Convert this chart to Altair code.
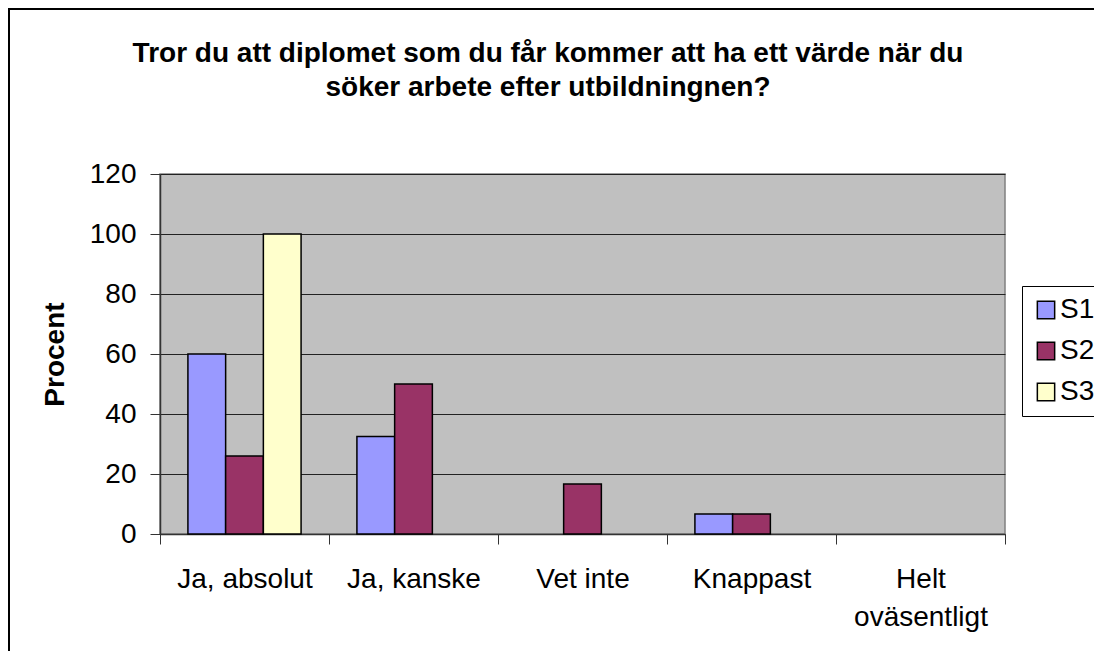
import altair as alt
import pandas as pd

categories = ["Ja, absolut", "Ja, kanske", "Vet inte", "Knappast", "Helt oväsentligt"]
series = ["S1", "S2", "S3"]
s1 = [60, 32.5, 0, 6.7, 0]
s2 = [26, 50, 16.7, 6.7, 0]
s3 = [100, 0, 0, 0, 0]
colors = ["#9999FF", "#993366", "#FFFFCC"]
y_ticks = [0, 20, 40, 60, 80, 100, 120]
title_lines = ["Tror du att diplomet som du får kommer att ha ett värde när du",
               "söker arbete efter utbildningnen?"]

rows = []
for name, vals in zip(series, [s1, s2, s3]):
    for c, v in zip(categories, vals):
        rows.append({"kategori": c, "serie": name, "value": v})
df = pd.DataFrame(rows)

FONT = "Liberation Sans"

bars = alt.Chart(df).transform_filter("datum.value > 0").mark_bar(
    stroke="black", strokeWidth=1.5
).encode(
    x=alt.X("kategori:N", sort=categories,
            scale=alt.Scale(domain=categories, paddingInner=0, paddingOuter=0),
            axis=alt.Axis(title=None, labelAngle=0, tickBand="extent",
                          labelFontSize=28, labelFont=FONT, labelColor="black",
                          labelPadding=21, labelLineHeight=38,
                          labelExpr="datum.label == 'Helt oväsentligt' ? ['Helt', 'oväsentligt'] : datum.label",
                          tickSize=10, tickColor="#333", domainColor="#333",
                          domainWidth=1.5, grid=False)),
    xOffset=alt.XOffset("serie:N", sort=series,
                        scale=alt.Scale(domain=series, paddingInner=0, paddingOuter=0.74)),
    y=alt.Y("value:Q", scale=alt.Scale(domain=[0, 120], nice=False),
            axis=alt.Axis(title="Procent", values=y_ticks, grid=True,
                          gridColor="#222", gridWidth=1,
                          labelFontSize=28, labelFont=FONT, labelColor="black",
                          labelPadding=14, tickSize=10, tickColor="#333",
                          domainColor="#333", domainWidth=1.5,
                          titleFontSize=28, titleFont=FONT, titleFontWeight="bold",
                          titleColor="black", titleAngle=270, titleAlign="center",
                          titleBaseline="alphabetic", titleX=-97, titleY=180)),
    color=alt.Color("serie:N", sort=series,
                    scale=alt.Scale(domain=series, range=colors),
                    legend=alt.Legend(title=None, orient="none", legendX=862, legendY=112,
                                      symbolType="square", symbolSize=300,
                                      symbolStrokeColor="black", symbolStrokeWidth=1.5,
                                      labelFontSize=28, labelFont=FONT, labelColor="black",
                                      labelOffset=0, rowPadding=13, padding=10,
                                      strokeColor="black", fillColor="white")),
)

deco = alt.Chart(pd.DataFrame({"b": [0]}))

border = deco.mark_rect(
    fill="white", fillOpacity=0, stroke="black", strokeWidth=2
).encode(
    x=alt.value(-151), y=alt.value(-165), x2=alt.value(1100), y2=alt.value(700)
)

title = deco.mark_text(
    text=title_lines, fontSize=28, font=FONT, fontWeight="bold", color="black",
    align="center", baseline="alphabetic", lineHeight=34
).encode(x=alt.value(388), y=alt.value(-112))

chart = alt.layer(border, title, bars).properties(
    width=845, height=360,
    background="white",
    autosize=alt.AutoSizeParams(type="none"),
    padding={"left": 152, "top": 166, "right": 89, "bottom": 117},
).configure_view(fill="#C0C0C0", stroke="#808080", strokeWidth=1.5)

chart.save("out.html", embed_options={"renderer": "svg", "actions": False})
